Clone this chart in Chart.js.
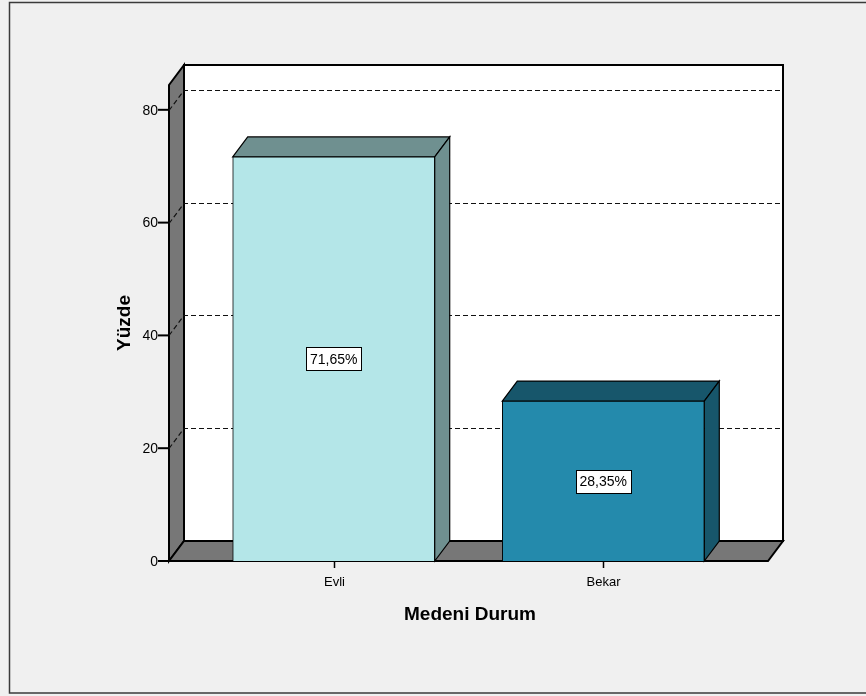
<!DOCTYPE html>
<html>
<head>
<meta charset="utf-8">
<title>Medeni Durum</title>
<script src="https://cdn.jsdelivr.net/npm/chart.js@4/dist/chart.umd.min.js"></script>
<style>
  html, body { margin: 0; padding: 0; background: #f0f0f0; }
  #wrap { width: 866px; height: 696px; position: relative; }
  canvas { display: block; }
</style>
</head>
<body>
<div id="wrap"><canvas id="c" width="866" height="696"></canvas></div>
<script>
// Marital status distribution (percent)
const categories = ['Evli', 'Bekar'];
const percentages = [71.65, 28.35];
const yTicks = [0, 20, 40, 60, 80];
const xTitle = 'Medeni Durum';
const yTitle = 'Yüzde';

const frontColors = ['#b4e6e8', '#248aac'];
const shadeColors = ['#6f9090', '#17566b'];
const panelColor = '#777777';
const FONT = '"Liberation Sans", Arial, sans-serif';

// oblique depth of the pseudo-3D box
const DX = 15, DY = -20;

function poly(ctx, pts, fill) {
  ctx.beginPath();
  ctx.moveTo(pts[0][0], pts[0][1]);
  for (let i = 1; i < pts.length; i++) ctx.lineTo(pts[i][0], pts[i][1]);
  ctx.closePath();
  ctx.fillStyle = fill;
  ctx.fill();
  ctx.stroke();
}

const box3d = {
  id: 'box3d',
  beforeDraw(chart) {
    const ctx = chart.ctx;
    ctx.save();
    ctx.fillStyle = '#f0f0f0';
    ctx.fillRect(0, 0, chart.width, chart.height);
    ctx.strokeStyle = '#3a3a3a';
    ctx.lineWidth = 1.5;
    ctx.strokeRect(9.5, 2.5, chart.width + 10, 690.5);
    ctx.restore();
  },
  beforeDatasetsDraw(chart) {
    const ctx = chart.ctx;
    const a = chart.chartArea;
    const ys = chart.scales.y;
    const L = a.left, R = a.right, T = a.top, B = a.bottom;
    ctx.save();
    ctx.strokeStyle = '#000';
    ctx.lineJoin = 'miter';

    // back wall
    ctx.lineWidth = 2;
    ctx.fillStyle = '#ffffff';
    ctx.fillRect(L + DX, T + DY, R - L, B - T);
    ctx.strokeRect(L + DX, T + DY, R - L, B - T);

    // left side panel and floor
    poly(ctx, [[L, T], [L + DX, T + DY], [L + DX, B + DY], [L, B]], panelColor);
    poly(ctx, [[L, B], [L + DX, B + DY], [R + DX, B + DY], [R, B]], panelColor);

    // dashed grid lines on the side panel and back wall
    ctx.lineWidth = 1.2;
    ctx.strokeStyle = '#111';
    ctx.setLineDash([5, 3]);
    yTicks.forEach(v => {
      if (v === 0) return;
      const y = Math.round(ys.getPixelForValue(v)) + 0.5;
      ctx.beginPath();
      ctx.moveTo(L, y);
      ctx.lineTo(L + DX, y + DY);
      ctx.lineTo(R + DX - 1, y + DY);
      ctx.stroke();
    });
    ctx.setLineDash([]);

    // top and side faces of the bars
    ctx.strokeStyle = '#000';
    ctx.lineWidth = 1.2;
    const meta = chart.getDatasetMeta(0);
    meta.data.forEach((bar, i) => {
      const p = bar.getProps(['x', 'y', 'base', 'width'], true);
      const l = p.x - p.width / 2, r = p.x + p.width / 2;
      poly(ctx, [[l, p.y], [l + DX, p.y + DY], [r + DX, p.y + DY], [r, p.y]], shadeColors[i]);
      poly(ctx, [[r, p.y], [r + DX, p.y + DY], [r + DX, p.base + DY], [r, p.base]], shadeColors[i]);
    });
    ctx.restore();
  },
  afterDatasetsDraw(chart) {
    const ctx = chart.ctx;
    const a = chart.chartArea;
    const ys = chart.scales.y, xs = chart.scales.x;
    const L = a.left, B = a.bottom;
    ctx.save();
    ctx.strokeStyle = '#000';
    ctx.fillStyle = '#000';

    // y axis ticks and labels
    ctx.lineWidth = 2;
    ctx.font = '14px ' + FONT;
    ctx.textAlign = 'right';
    ctx.textBaseline = 'middle';
    yTicks.forEach(v => {
      const y = ys.getPixelForValue(v);
      ctx.beginPath();
      ctx.moveTo(L - 11, y);
      ctx.lineTo(L, y);
      ctx.stroke();
      ctx.fillText(String(v), L - 11, y + 1);
    });

    // category ticks and labels
    ctx.textAlign = 'center';
    categories.forEach((c, i) => {
      const x = Math.round(xs.getPixelForValue(i)) + 0.5;
      ctx.lineWidth = 1.5;
      ctx.beginPath();
      ctx.moveTo(x, B);
      ctx.lineTo(x, B + 7);
      ctx.stroke();
      ctx.font = '13px ' + FONT;
      ctx.fillText(c, x, B + 21);
    });

    // axis titles
    ctx.font = 'bold 19px ' + FONT;
    ctx.fillText(xTitle, 470, 615);
    ctx.save();
    ctx.translate(125, 323);
    ctx.rotate(-Math.PI / 2);
    ctx.fillText(yTitle, 0, 0);
    ctx.restore();

    // value labels in white boxes
    ctx.font = '14px ' + FONT;
    ctx.lineWidth = 1;
    const meta = chart.getDatasetMeta(0);
    meta.data.forEach((bar, i) => {
      const p = bar.getProps(['x', 'y', 'base'], true);
      const txt = percentages[i].toFixed(2).replace('.', ',') + '%';
      const w = Math.round(ctx.measureText(txt).width) + 8;
      const h = 23;
      const cy = (p.y + p.base) / 2;
      const bx = Math.round(p.x - w / 2) + 0.5, by = Math.round(cy - h / 2) + 0.5;
      ctx.fillStyle = '#ffffff';
      ctx.fillRect(bx, by, w, h);
      ctx.strokeRect(bx, by, w, h);
      ctx.fillStyle = '#000';
      ctx.fillText(txt, p.x, cy + 1);
    });
    ctx.restore();
  }
};

new Chart(document.getElementById('c'), {
  type: 'bar',
  data: {
    datasets: [{
      data: percentages.map((v, i) => ({ x: i, y: v })),
      backgroundColor: frontColors,
      borderColor: '#000',
      borderWidth: 1,
      barThickness: 202
    }]
  },
  options: {
    responsive: false,
    animation: false,
    events: [],
    layout: { padding: { left: 169, right: 98, top: 85, bottom: 135 } },
    plugins: { legend: { display: false }, tooltip: { enabled: false } },
    scales: {
      x: { type: 'linear', min: -0.611, max: 1.611, offset: false, display: false },
      y: { min: 0, max: 84.4, display: false }
    }
  },
  plugins: [box3d]
});
</script>
</body>
</html>
